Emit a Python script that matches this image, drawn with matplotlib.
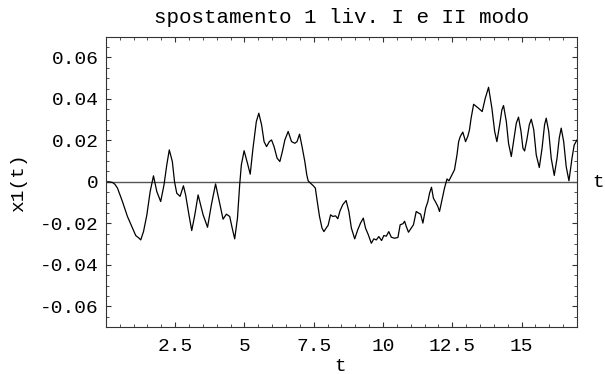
# spostamento 1 liv. - Mathematica style plot

import numpy as np
import matplotlib.pyplot as plt
from matplotlib.ticker import MultipleLocator

# curve
t = [0.0, 0.12, 0.24, 0.33, 0.42, 0.6, 0.78, 0.96, 1.08, 1.2, 1.26, 1.36, 1.48,
     1.6, 1.72, 1.84, 1.98, 2.1, 2.2, 2.29, 2.4, 2.48, 2.56, 2.68, 2.8, 2.88,
     3.0, 3.1, 3.21, 3.33, 3.51, 3.67, 3.81, 3.96, 4.07, 4.23, 4.35, 4.47, 4.56,
     4.65, 4.75, 4.83, 4.89, 4.99, 5.11, 5.21, 5.31, 5.43, 5.52, 5.62, 5.71,
     5.8, 5.9, 5.98, 6.07, 6.18, 6.28, 6.37, 6.46, 6.58, 6.7, 6.82, 6.9, 6.99,
     7.08, 7.18, 7.25, 7.3, 7.38, 7.48, 7.56, 7.62, 7.71, 7.8, 7.87, 7.95, 8.02,
     8.11, 8.19, 8.29, 8.37, 8.45, 8.55, 8.67, 8.77, 8.86, 8.98, 9.09, 9.19,
     9.29, 9.37, 9.47, 9.58, 9.67, 9.76, 9.85, 9.95, 10.03, 10.12, 10.21, 10.3,
     10.42, 10.54, 10.62, 10.72, 10.78, 10.84, 10.92, 11.02, 11.1, 11.2, 11.28,
     11.36, 11.44, 11.54, 11.62, 11.68, 11.75, 11.82, 11.9, 11.98, 12.04, 12.14,
     12.22, 12.31, 12.38, 12.46, 12.58, 12.67, 12.73, 12.79, 12.88, 12.98,
     13.06, 13.12, 13.18, 13.27, 13.42, 13.58, 13.69, 13.81, 13.93, 14.03,
     14.11, 14.21, 14.29, 14.35, 14.45, 14.53, 14.63, 14.71, 14.81, 14.89,
     14.98, 15.05, 15.11, 15.19, 15.28, 15.35, 15.44, 15.53, 15.64, 15.74,
     15.83, 15.89, 15.98, 16.07, 16.18, 16.28, 16.36, 16.43, 16.52, 16.61,
     16.71, 16.82, 16.9, 17.0]
x1 = [0.0, 0.0, -0.0003, -0.0012, -0.003, -0.0095, -0.0167, -0.0223, -0.0259,
      -0.0272, -0.028, -0.024, -0.016, -0.0047, 0.0029, -0.0047, -0.0095,
      -0.0014, 0.0082, 0.0154, 0.0098, 0.0, -0.0055, -0.007, -0.0019, -0.0063,
      -0.016, -0.0235, -0.016, -0.0063, -0.0159, -0.0219, -0.011, -0.001,
      -0.0079, -0.018, -0.0156, -0.0167, -0.0223, -0.0275, -0.0175, -0.0014,
      0.0082, 0.015, 0.009, 0.0037, 0.0162, 0.029, 0.0331, 0.0275, 0.0194,
      0.017, 0.0194, 0.0202, 0.017, 0.0114, 0.0098, 0.0146, 0.0202, 0.0243,
      0.0194, 0.0186, 0.0194, 0.023, 0.017, 0.0098, 0.0034, 0.0005, -0.0006,
      -0.0018, -0.003, -0.0087, -0.0167, -0.0223, -0.024, -0.0223, -0.021,
      -0.0159, -0.0167, -0.0164, -0.0178, -0.014, -0.011, -0.009, -0.0143,
      -0.0223, -0.0275, -0.0231, -0.0199, -0.0175, -0.0223, -0.0255, -0.0296,
      -0.0275, -0.028, -0.0264, -0.0283, -0.0259, -0.0262, -0.024, -0.0267,
      -0.0272, -0.0268, -0.0207, -0.0202, -0.019, -0.0215, -0.0243, -0.0223,
      -0.0207, -0.0143, -0.015, -0.0156, -0.0199, -0.0127, -0.0095, -0.0055,
      -0.0026, -0.0079, -0.0098, -0.0119, -0.0143, -0.0079, -0.003, 0.0014,
      0.0005, 0.0026, 0.0058, 0.013, 0.0194, 0.0219, 0.024, 0.0194, 0.0219,
      0.025, 0.0307, 0.0374, 0.0358, 0.0339, 0.0403, 0.0456, 0.0355, 0.0243,
      0.0194, 0.0275, 0.0347, 0.0368, 0.0291, 0.0186, 0.0122, 0.0194, 0.0283,
      0.0312, 0.0243, 0.0162, 0.0149, 0.0202, 0.0275, 0.0302, 0.0251, 0.013,
      0.0069, 0.0162, 0.0275, 0.0307, 0.0243, 0.0114, 0.0031, 0.0114, 0.0211,
      0.0259, 0.0194, 0.0074, 0.0005, 0.0114, 0.0178, 0.0202]

xticks = [2.5, 5, 7.5, 10, 12.5, 15]
xtick_labels = ["2.5", "5", "7.5", "10", "12.5", "15"]
yticks = [-0.06, -0.04, -0.02, 0, 0.02, 0.04, 0.06]
ytick_labels = ["-0.06", "-0.04", "-0.02", "0", "0.02", "0.04", "0.06"]

plt.rcParams['font.family'] = ['Liberation Mono', 'DejaVu Sans Mono']
fs = 14

fig = plt.figure(figsize=(6.05, 3.74), dpi=100)
ax = fig.add_axes([0.1749, 0.1257, 0.7788, 0.7762])

ax.axhline(0, color='#555555', lw=1.0)
ax.plot(t, x1, color='black', lw=0.9)

ax.set_xlim(0, 17)
ax.set_ylim(-0.07, 0.07)
ax.set_xticks(xticks)
ax.set_xticklabels(xtick_labels, fontsize=fs)
ax.set_yticks(yticks)
ax.set_yticklabels(ytick_labels, fontsize=fs)
ax.xaxis.set_minor_locator(MultipleLocator(0.5))
ax.yaxis.set_minor_locator(MultipleLocator(0.005))
ax.tick_params(which='both', direction='in', top=True, right=True, color='#333333')
ax.tick_params(which='major', length=3.5, width=0.8)
ax.tick_params(which='minor', length=2, width=0.6)
ax.tick_params(axis='x', which='major', pad=8)
ax.tick_params(axis='y', which='major', pad=5)
for s in ax.spines.values():
    s.set_color('#333333')
    s.set_linewidth(0.8)

fig.text(0.5645, 0.9545, "spostamento 1 liv. I e II modo", fontsize=15,
         ha='center', va='center')
fig.text(0.562, 0.02, "t", fontsize=fs, ha='center', va='center')
fig.text(0.031, 0.513, "x1(t)", fontsize=fs, rotation=90, ha='center', va='center')
fig.text(0.988, 0.513, "t", fontsize=fs, ha='center', va='center')

fig.savefig("out.png", dpi=100)
